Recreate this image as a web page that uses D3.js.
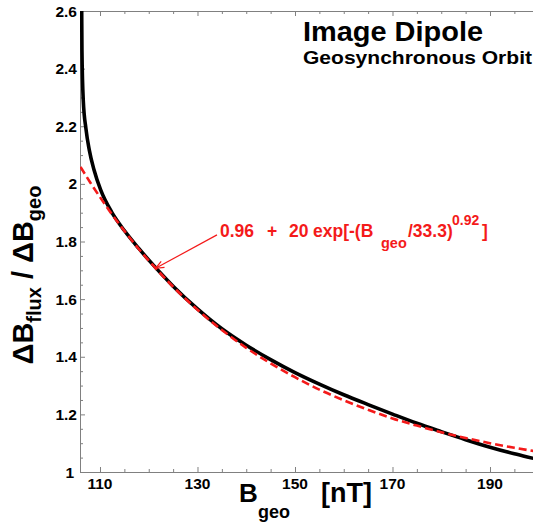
<!DOCTYPE html>
<html>
<head>
<meta charset="utf-8">
<script src="https://cdn.jsdelivr.net/npm/d3@7"></script>
<style>
  html, body { margin: 0; padding: 0; background: #fff; overflow: hidden; }
  svg { display: block; }
  text { font-family: "Liberation Sans", Arial, Helvetica, sans-serif; font-weight: bold; }
</style>
</head>
<body>
<svg id="chart" width="533" height="522"></svg>
<script>
// Ratio of flux-shell to geosynchronous field perturbation vs. B at geo (image dipole model)
const exactB = [106.2, 106.25, 106.3, 106.57, 107.13, 107.8, 108.77, 110.14, 112.4, 115, 118, 121, 125,
                130, 135, 140, 145, 150, 155, 160, 165, 170, 175, 180, 185, 190, 195, 199, 200];
const exactRatio = [2.75, 2.60, 2.465, 2.29, 2.19, 2.118, 2.049, 1.979, 1.902, 1.838, 1.775, 1.717, 1.645,
                    1.566, 1.497, 1.440, 1.390, 1.345, 1.305, 1.268, 1.234, 1.201, 1.169, 1.140, 1.112, 1.086, 1.063, 1.047, 1.043];

// Empirical fit: 0.96 + 20 exp[-(Bgeo/33.3)^0.92]
const fitB = [106, 108, 110, 112, 115, 118, 121, 125, 130, 135, 140, 145, 150, 155, 160, 165, 170, 175, 180, 185, 190, 195, 200];
const fitRatio = [2.059, 2.005, 1.954, 1.905, 1.837, 1.773, 1.715, 1.643, 1.563, 1.493, 1.431, 1.377, 1.329, 1.286,
                  1.249, 1.216, 1.186, 1.161, 1.138, 1.118, 1.100, 1.084, 1.070];

const xTickValues = [110, 115, 120, 125, 130, 135, 140, 145, 150, 155, 160, 165, 170, 175, 180, 185, 190, 195, 200];
const xTickLabels = ["110", "130", "150", "170", "190"];
const yTickValues = d3.range(0, 33).map(i => +(1 + i * 0.05).toFixed(2));
const yTickLabels = ["1", "1.2", "1.4", "1.6", "1.8", "2", "2.2", "2.4", "2.6"];

// Arrow from the fit label to the curve (data coordinates)
const arrowFrom = [134.0, 1.823];
const arrowTo = [121.4, 1.707];

const svg = d3.select("#chart");
const plotLeft = 80, plotTop = 11, plotBottom = 472;

const x = d3.scaleLinear().domain([105.9, 200]).range([plotLeft, plotLeft + (200 - 105.9) * 4.875]);
const y = d3.scaleLinear().domain([1, 2.6]).range([plotBottom, plotTop]);
const plotRight = x.range()[1];

svg.append("defs").append("clipPath").attr("id", "plot-clip")
  .append("rect").attr("x", plotLeft).attr("y", plotTop)
  .attr("width", plotRight - plotLeft).attr("height", plotBottom - plotTop);

const axisColor = "#808080";

// Axes: inward ticks, minor every 5 nT / 0.05, labels on majors
const isMajorX = v => xTickLabels.includes(String(v));
const isMajorY = v => yTickLabels.includes(String(v));

const gxb = svg.append("g").attr("transform", `translate(0,${plotBottom})`)
  .call(d3.axisBottom(x).tickValues(xTickValues).tickSizeInner(0).tickSizeOuter(0).tickFormat(""));
gxb.select(".domain").attr("stroke", axisColor);
gxb.selectAll(".tick line").attr("stroke", axisColor)
  .attr("y2", d => isMajorX(d) ? -5 : -3);

const gxt = svg.append("g").attr("transform", `translate(0,${plotTop})`)
  .call(d3.axisTop(x).tickValues(xTickValues).tickSizeInner(0).tickSizeOuter(0).tickFormat(""));
gxt.select(".domain").attr("stroke", axisColor);
gxt.selectAll(".tick line").attr("stroke", axisColor)
  .attr("y2", d => isMajorX(d) ? 5 : 3);

const gy = svg.append("g").attr("transform", `translate(${plotLeft},0)`)
  .call(d3.axisLeft(y).tickValues(yTickValues).tickSizeInner(0).tickSizeOuter(0).tickFormat(""));
gy.select(".domain").attr("stroke", axisColor);
gy.selectAll(".tick line").attr("stroke", axisColor)
  .attr("x2", d => isMajorY(d) ? 5 : 3);

// Tick labels
svg.append("g").selectAll("text").data(xTickLabels).join("text")
  .attr("x", d => x(+d)).attr("y", 489)
  .attr("text-anchor", "middle").attr("font-size", 15.5).attr("fill", "#000")
  .text(d => d);

svg.append("g").selectAll("text").data(yTickLabels).join("text")
  .attr("x", d => d === "1" ? 74 : 77).attr("y", d => y(+d) + 5.5)
  .attr("text-anchor", "end").attr("font-size", 15.5).attr("fill", "#000")
  .text(d => d);

// Curves
const plot = svg.append("g").attr("clip-path", "url(#plot-clip)");
const line = d3.line().x(d => x(d[0])).y(d => y(d[1])).curve(d3.curveMonotoneX);

plot.append("path")
  .datum(exactB.map((b, i) => [b, exactRatio[i]]))
  .attr("d", line).attr("fill", "none")
  .attr("stroke", "#000").attr("stroke-width", 3.6).attr("stroke-linejoin", "round");

const red = "#f41a1a";
plot.append("path")
  .datum(fitB.map((b, i) => [b, fitRatio[i]]))
  .attr("d", line).attr("fill", "none")
  .attr("stroke", red).attr("stroke-width", 2.6).attr("stroke-dasharray", "8,4");

// Fit annotation
const ax0 = x(arrowFrom[0]), ay0 = y(arrowFrom[1]);
const ax1 = x(arrowTo[0]), ay1 = y(arrowTo[1]);
svg.append("line").attr("x1", ax0).attr("y1", ay0).attr("x2", ax1).attr("y2", ay1)
  .attr("stroke", red).attr("stroke-width", 1.2);
const ang = Math.atan2(ay0 - ay1, ax0 - ax1);
const headLen = 9, spread = 0.4;
svg.append("path")
  .attr("d", `M${ax1 + headLen * Math.cos(ang + spread)},${ay1 + headLen * Math.sin(ang + spread)}` +
             `L${ax1},${ay1}` +
             `L${ax1 + headLen * Math.cos(ang - spread)},${ay1 + headLen * Math.sin(ang - spread)}`)
  .attr("fill", "none").attr("stroke", red).attr("stroke-width", 1.2);

// Fit formula, laid out piece by piece
const fitPieces = [
  { t: "0.96",     x: 220, dy: 0,   fs: 17.5 },
  { t: "+",        x: 267, dy: 0,   fs: 17.5 },
  { t: "20",       x: 289, dy: 0,   fs: 17.5 },
  { t: "exp[-(B",  x: 313, dy: 0,   fs: 17.5 },
  { t: "geo",      x: 381, dy: 11,  fs: 14.5 },
  { t: "/33.3)",   x: 408, dy: 0,   fs: 17.5 },
  { t: "0.92",     x: 452, dy: -12, fs: 14 },
  { t: "]",        x: 482, dy: 0,   fs: 17.5 }
];
svg.append("g").selectAll("text").data(fitPieces).join("text")
  .attr("x", d => d.x).attr("y", d => 237 + d.dy)
  .attr("font-size", d => d.fs).attr("fill", red)
  .text(d => d.t);

// Title
svg.append("text").attr("x", 303).attr("y", 41).attr("font-size", 28)
  .attr("textLength", 180).attr("lengthAdjust", "spacingAndGlyphs")
  .attr("fill", "#000").text("Image Dipole");
svg.append("text").attr("x", 303).attr("y", 64).attr("font-size", 19)
  .attr("textLength", 229).attr("lengthAdjust", "spacingAndGlyphs")
  .attr("fill", "#000").text("Geosynchronous Orbit");

// Axis titles
const xl = svg.append("text").attr("y", 502).attr("fill", "#000");
xl.append("tspan").attr("x", 239).attr("font-size", 26).text("B");
xl.append("tspan").attr("x", 258).attr("dy", 16).attr("font-size", 18).text("geo");
svg.append("text").attr("x", 321).attr("y", 502).attr("font-size", 27).attr("fill", "#000").text("[nT]");

const yl = svg.append("text")
  .attr("transform", "translate(33,275) rotate(-90)")
  .attr("text-anchor", "middle").attr("fill", "#000").attr("xml:space", "preserve");
yl.append("tspan").attr("font-size", 29).text("ΔB");
yl.append("tspan").attr("dy", 8).attr("font-size", 20).text("flux");
yl.append("tspan").attr("dy", -8).attr("font-size", 29).text(" / ΔB");
yl.append("tspan").attr("dy", 8).attr("font-size", 20).text("geo");
</script>
</body>
</html>
